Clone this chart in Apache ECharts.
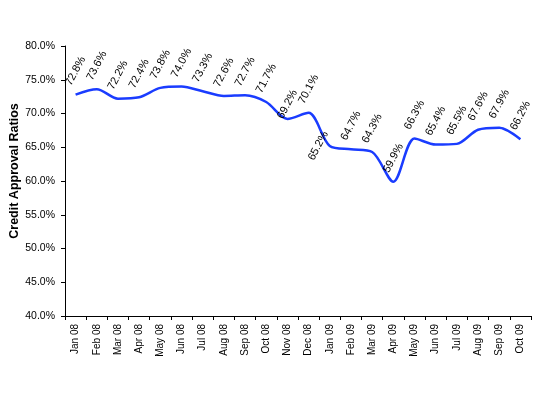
<!DOCTYPE html>
<html>
<head>
<meta charset="utf-8">
<script src="https://cdn.jsdelivr.net/npm/echarts@6/dist/echarts.min.js"></script>
<style>html,body{margin:0;padding:0;background:#fff}#c{width:540px;height:395px}</style>
</head>
<body>
<div id="c"></div>
<script>
const categories = ['Jan 08','Feb 08','Mar 08','Apr 08','May 08','Jun 08','Jul 08','Aug 08','Sep 08','Oct 08','Nov 08','Dec 08','Jan 09','Feb 09','Mar 09','Apr 09','May 09','Jun 09','Jul 09','Aug 09','Sep 09','Oct 09'];
const ratios = [72.8,73.6,72.2,72.4,73.8,74.0,73.3,72.6,72.7,71.7,69.2,70.1,65.2,64.7,64.3,59.9,66.3,65.4,65.5,67.6,67.9,66.2];
const yTicks = {min:40, max:80, interval:5};

const chart = echarts.init(document.getElementById('c'));
const data = ratios.map((v,i)=>{
  if (categories[i]==='Jan 09') return {value:v, label:{position:'left', distance:11}};
  if (categories[i]==='Nov 08') return {value:v, label:{distance:14}};
  return v;
});
chart.setOption({
  animation:false,
  grid:{left:65,right:9,top:46,bottom:79,containLabel:false,outerBoundsMode:'none'},
  xAxis:{
    type:'category', data:categories, boundaryGap:true,
    axisLine:{lineStyle:{color:'#000',width:1}},
    axisTick:{show:true, alignWithLabel:false, length:4, lineStyle:{color:'#000'}},
    axisLabel:{rotate:90, interval:0, color:'#000', fontFamily:'Arial, Liberation Sans', fontSize:10, margin:8},
    splitLine:{show:false}
  },
  yAxis:{
    type:'value', min:yTicks.min, max:yTicks.max, interval:yTicks.interval,
    name:'Credit Approval Ratios', nameLocation:'middle', nameGap:44, nameRotate:90, nameMoveOverlap:false,
    nameTextStyle:{fontFamily:'Arial, Liberation Sans', fontSize:12.5, fontWeight:'bold', color:'#000', padding:[0,0,0,20]},
    axisLine:{show:true, lineStyle:{color:'#000',width:1}},
    axisTick:{show:true, length:4, lineStyle:{color:'#000'}},
    axisLabel:{formatter:v=>v.toFixed(1)+'%', color:'#000', fontFamily:'Arial, Liberation Sans', fontSize:10.5, margin:10},
    splitLine:{show:false}
  },
  series:[{
    type:'line', data:data, smooth:0.3, symbol:'circle', symbolSize:1, showSymbol:true,
    itemStyle:{color:'rgba(0,0,0,0)'},
    lineStyle:{color:'#1a3cff', width:2.5},
    labelLayout:{hideOverlap:false},
    label:{show:true, position:'top', distance:23, rotate:62, align:'center', verticalAlign:'middle',
      formatter:p=>p.value.toFixed(1)+'%', color:'#000', fontFamily:'Arial, Liberation Sans', fontSize:11}
  }]
});
</script>
</body>
</html>
